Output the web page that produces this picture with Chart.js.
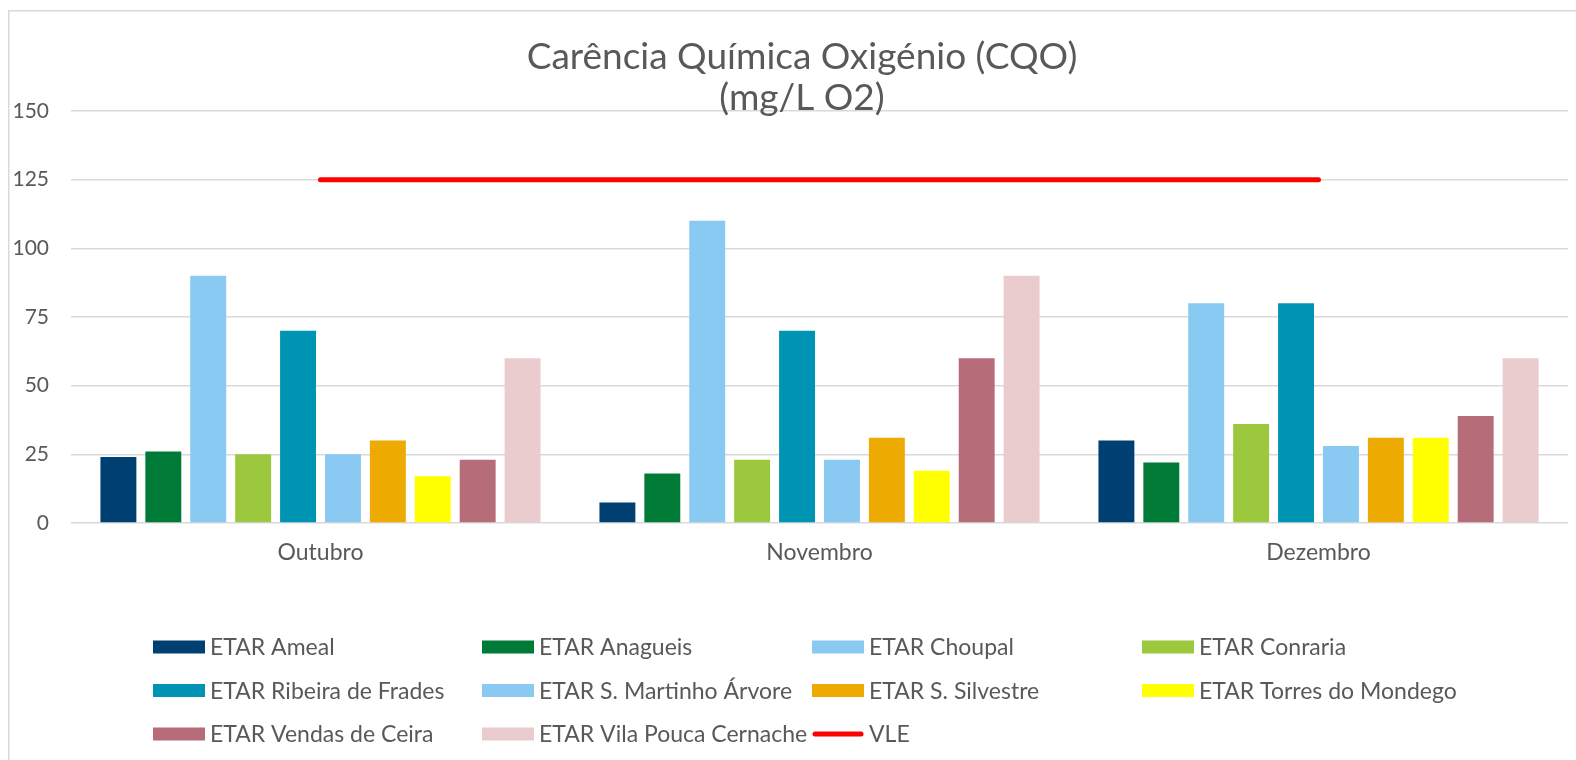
<!DOCTYPE html>
<html>
<head>
<meta charset="utf-8">
<script src="https://cdn.jsdelivr.net/npm/chart.js"></script>
<style>
  body { margin: 0; background: #fff; }
</style>
</head>
<body>
<canvas id="myChart" width="1576" height="760"></canvas>
<script>
// months on the x axis
const months = ['Outubro', 'Novembro', 'Dezembro'];

// CQO values per ETAR (mg/L O2)
const ameal      = [24, 7.5, 30];
const anagueis   = [26, 18, 22];
const choupal    = [90, 110, 80];
const conraria   = [25, 23, 36];
const ribeira    = [70, 70, 80];
const martinho   = [25, 23, 28];
const silvestre  = [30, 31, 31];
const torres     = [17, 19, 31];
const vendas     = [23, 60, 39];
const vilaPouca  = [60, 90, 60];
const vle        = [125, 125, 125];

const yTicks = [0, 25, 50, 75, 100, 125, 150];

const barSeries = [
  ['ETAR Ameal', ameal, 'rgb(0,63,113)'],
  ['ETAR Anagueis', anagueis, 'rgb(0,122,55)'],
  ['ETAR Choupal', choupal, 'rgb(137,202,242)'],
  ['ETAR Conraria', conraria, 'rgb(155,200,60)'],
  ['ETAR Ribeira de Frades', ribeira, 'rgb(0,148,180)'],
  ['ETAR S. Martinho Árvore', martinho, 'rgb(137,201,242)'],
  ['ETAR S. Silvestre', silvestre, 'rgb(237,170,0)'],
  ['ETAR Torres do Mondego', torres, 'rgb(255,255,0)'],
  ['ETAR Vendas de Ceira', vendas, 'rgb(182,108,121)'],
  ['ETAR Vila Pouca Cernache', vilaPouca, 'rgb(234,204,207)']
];

const FONT = 'Lato';
const TXT = '#595959';

let datasets = [];
for (let i = 0; i < barSeries.length; i++) {
  datasets.push({
    type: 'bar',
    label: barSeries[i][0],
    data: barSeries[i][1],
    backgroundColor: barSeries[i][2],
    borderWidth: 0,
    categoryPercentage: 0.9,
    barPercentage: 0.8,
    order: 2
  });
}
datasets.push({
  type: 'line',
  label: 'VLE',
  data: vle,
  borderColor: '#ff0000',
  backgroundColor: '#ff0000',
  borderWidth: 5,
  borderCapStyle: 'round',
  pointRadius: 0,
  fill: false,
  order: 1
});

// title + frame + 4-column legend, drawn by hand like the original
const decor = {
  id: 'decor',
  beforeDraw(chart) {
    const ctx = chart.ctx;
    ctx.save();
    ctx.strokeStyle = '#d9d9d9';
    ctx.lineWidth = 1.5;
    ctx.strokeRect(8.75, 10.75, 2000, 2000);
    ctx.restore();
  },
  afterDraw(chart) {
    const ctx = chart.ctx;
    ctx.save();
    ctx.fillStyle = TXT;
    ctx.textAlign = 'center';
    ctx.textBaseline = 'middle';
    ctx.font = '37px ' + FONT;
    ctx.fillText('Carência Química Oxigénio (CQO)', 802, 57);
    ctx.fillText('(mg/L O2)', 802, 98);

    const colX = [153, 482, 812, 1142];
    const rowY = [647, 690.5, 734];
    ctx.textAlign = 'left';
    ctx.font = '23px ' + FONT;
    chart.data.datasets.forEach(function (ds, i) {
      const x = colX[i % 4];
      const y = rowY[Math.floor(i / 4)];
      if (ds.type === 'line') {
        ctx.strokeStyle = ds.borderColor;
        ctx.lineWidth = 5;
        ctx.lineCap = 'round';
        ctx.beginPath();
        ctx.moveTo(x + 3, y);
        ctx.lineTo(x + 49, y);
        ctx.stroke();
      } else {
        ctx.fillStyle = ds.backgroundColor;
        ctx.fillRect(x, y - 6.5, 52, 13);
      }
      ctx.fillStyle = TXT;
      ctx.fillText(ds.label, x + 57, y + 1);
    });
    ctx.restore();
  }
};

const config = {
  data: { labels: months, datasets: datasets },
  options: {
    responsive: false,
    animation: false,
    layout: { padding: { left: 8, right: 8, top: 111, bottom: 197 } },
    plugins: {
      legend: { display: false },
      title: { display: false },
      tooltip: { enabled: false }
    },
    scales: {
      x: {
        grid: { display: false, drawTicks: false },
        border: { display: false },
        ticks: { color: TXT, font: { family: FONT, size: 23 }, padding: 16 },
        afterFit(scale) { scale.height = 40; }
      },
      y: {
        min: 0,
        max: 150,
        afterBuildTicks(scale) { scale.ticks = yTicks.map(v => ({ value: v })); },
        grid: { color: '#d9d9d9', lineWidth: 1.5, drawTicks: false },
        border: { display: false },
        ticks: { color: TXT, font: { family: FONT, size: 21 }, padding: 22 },
        afterFit(scale) { scale.width = 63; }
      }
    }
  },
  plugins: [decor]
};

const myChart = new Chart(document.getElementById('myChart'), config);
</script>
</body>
</html>
